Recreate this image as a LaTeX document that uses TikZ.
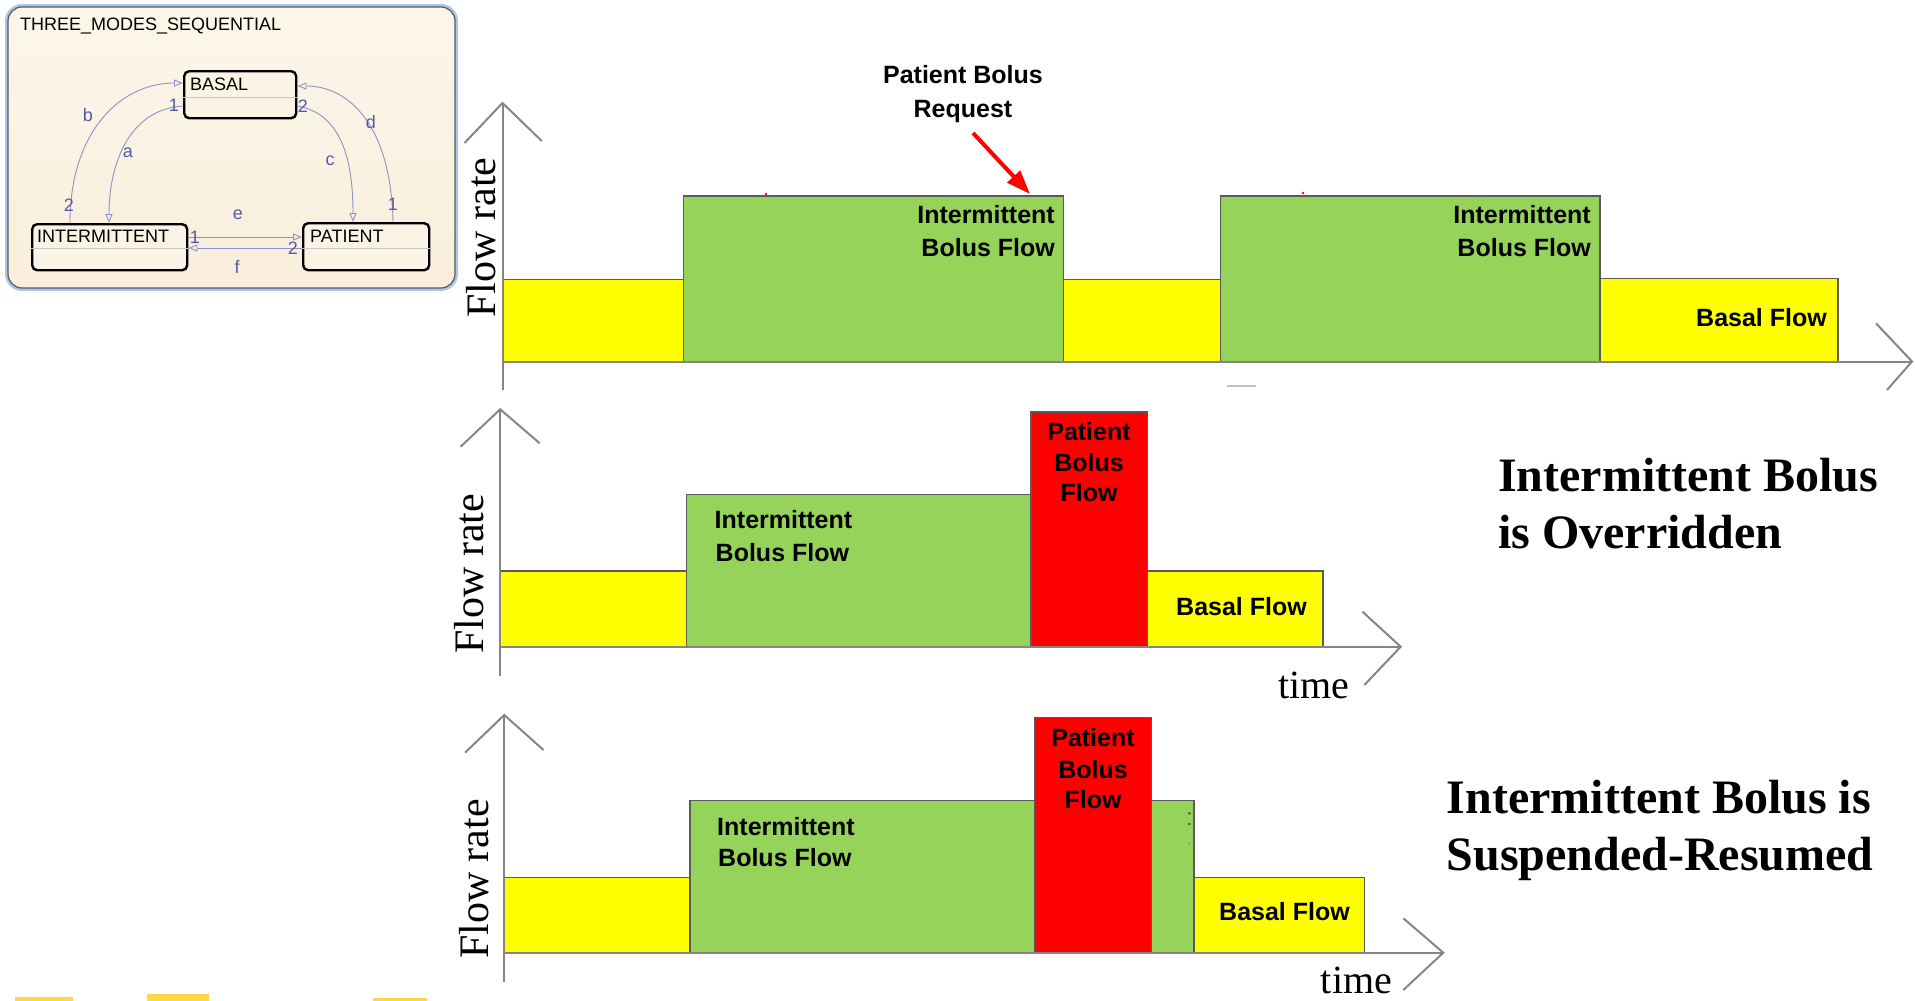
\documentclass[tikz,border=0pt]{standalone}
\usepackage{fontspec}
\setmainfont{Liberation Serif}
\newfontfamily\arialf{Liberation Sans}
\usetikzlibrary{arrows.meta}

\definecolor{yel}{HTML}{FFFF00}
\definecolor{grn}{HTML}{96D35B}
\definecolor{rd}{HTML}{FF0000}
\definecolor{edgecol}{HTML}{5A5A5A}
\definecolor{axiscol}{HTML}{858585}
\definecolor{chartbg}{HTML}{F9EEDB}
\definecolor{chartbgtop}{HTML}{FCF6EA}
\definecolor{framecol}{HTML}{A9C6EC}
\definecolor{statefill}{HTML}{FBF3E3}
\definecolor{transcol}{HTML}{8E93C4}
\definecolor{translbl}{HTML}{5559A8}
\definecolor{gold}{HTML}{FFD84A}

\begin{document}
\begin{tikzpicture}[x=1pt,y=-1pt,
  state/.style={draw=black, line width=2.4pt, rounded corners=5pt, fill=statefill, inner sep=0pt},
  stname/.style={inner sep=0pt, anchor=base west, font=\arialf\fontsize{18}{20}\selectfont},
  tlabel/.style={inner sep=0pt, text=translbl, font=\arialf\fontsize{18}{20}\selectfont},
  trans/.style={draw=transcol, line width=0.9pt, -{Triangle[open, length=9pt, width=7pt]}},
  divider/.style={draw=black!22, line width=0.8pt},
  bar/.style={draw=edgecol, line width=1.6pt},
  axisline/.style={draw=axiscol, line width=2pt},
  barlbl/.style={inner sep=0pt, font=\arialf\bfseries\fontsize{25}{30}\selectfont},
  ylbl/.style={inner sep=0pt, rotate=90, font=\fontsize{42}{46}\selectfont},
  tlbl/.style={inner sep=0pt, anchor=base west, font=\fontsize{40}{44}\selectfont},
  caption/.style={inner sep=0pt, anchor=base west, font=\bfseries\fontsize{48}{52}\selectfont},
  redarrow/.style={draw=rd, line width=4pt, -{Triangle[length=24pt, width=17pt]}}
]
\useasboundingbox (0,0) rectangle (1915,1001);

% ---------------- state chart ----------------
\draw[framecol, line width=4pt, rounded corners=15pt] (7,6) rectangle (456,289);
\shade[top color=chartbgtop, bottom color=chartbg, draw=black!65, line width=1.2pt, rounded corners=14pt]
  (8,7) rectangle (455,288);
\node[stname, font=\arialf\fontsize{18}{20}\selectfont] (title) at (20,30) {THREE\_MODES\_SEQUENTIAL};

\node[state, minimum width=112pt, minimum height=47pt, anchor=north west] (basal) at (183,70) {};
\node[state, minimum width=155pt, minimum height=46pt, anchor=north west] (inter) at (31,223) {};
\node[state, minimum width=126pt, minimum height=47pt, anchor=north west] (patient) at (302,222) {};

\draw[divider] ([yshift=-27pt]basal.north west) -- ([yshift=-27pt]basal.north east);
\draw[divider] ([yshift=-25pt]inter.north west) -- ([yshift=-25pt]inter.north east);
\draw[divider] ([yshift=-26pt]patient.north west) -- ([yshift=-26pt]patient.north east);

\node[stname] (basaltxt) at (190,90) {BASAL};
\node[stname] (intertxt) at (37,242) {INTERMITTENT};
\node[stname] (patienttxt) at (310,242) {PATIENT};

% transitions
\draw[trans] ([xshift=39pt]inter.north west) .. controls +(0,-92) and +(-62,0) .. ([yshift=-13pt]basal.north west);
\draw[trans] ([yshift=-36pt]basal.north west) .. controls +(-52,3) and +(0,-62) .. ([xshift=78pt]inter.north west);
\draw[trans] ([yshift=-36pt]basal.north east) .. controls +(46,8) and +(0,-58) .. ([xshift=51pt]patient.north west);
\draw[trans] ([xshift=91pt]patient.north west) .. controls +(-2,-96) and +(52,0) .. ([yshift=-16pt]basal.north east);
\draw[trans] ([yshift=-14pt]inter.north east) -- ([yshift=-15pt]patient.north west);
\draw[trans] ([yshift=-26pt]patient.north west) -- ([yshift=-25pt]inter.north east);

\node[tlabel] (lb) at (88,115) {b};
\node[tlabel] (la) at (128,153) {a};
\node[tlabel] (lc) at (330,161) {c};
\node[tlabel] (ld) at (371,122) {d};
\node[tlabel] (le) at (238,215) {e};
\node[tlabel] (lf) at (237,267) {f};
\node[tlabel] (pa) at (174,105) {1};
\node[tlabel] (pc) at (303,106) {2};
\node[tlabel] (pb) at (69,205) {2};
\node[tlabel] (pd) at (393,204) {1};
\node[tlabel] (pe) at (195,237) {1};
\node[tlabel] (pf) at (293,248) {2};

% ---------------- chart 1 ----------------
\fill[yel] (502.5,279.3) rectangle (683.3,361.7);
\draw[bar] (502.5,361.7) -- (502.5,279.3) -- (683.3,279.3);
\draw[bar, fill=grn] (683.3,195.7) rectangle (1063.6,361.7);
\draw[bar, fill=yel] (1063.6,279.3) rectangle (1220.6,361.7);
\draw[bar, fill=grn] (1220.6,195.7) rectangle (1600,361.7);
\draw[bar, fill=yel] (1600,278.3) rectangle (1838,361.7);
\fill[rd] (766,194) circle (1.3);
\fill[rd] (1303,193) circle (1.3);
\draw[black!25, line width=1.2pt] (1227,386) -- (1256,386);

\draw[axisline] (502.5,390) -- (502.5,103);
\draw[axisline] (464.5,143) -- (502.5,103) -- (541.8,141);
\draw[axisline] (502.5,361.7) -- (1912,361.7);
\draw[axisline] (1876,323.3) -- (1912,361.5) -- (1887,390);

\node[ylbl] (fr1) at (481,237.5) {Flow rate};
\node[barlbl, anchor=base] (req1) at (963,83) {Patient Bolus};
\node[barlbl, anchor=base] (req2) at (963,117) {Request};
\coordinate (reqtail) at (973,133);
\coordinate (reqtip) at (1030,194);
\draw[redarrow] (reqtail) -- (reqtip);

\node[barlbl, anchor=base east] (ib1a) at (1055,223) {Intermittent};
\node[barlbl, anchor=base east] (ib1b) at (1055,256.5) {Bolus Flow};
\node[barlbl, anchor=base east] (ib2a) at (1591,223) {Intermittent};
\node[barlbl, anchor=base east] (ib2b) at (1591,256.5) {Bolus Flow};
\node[barlbl, anchor=base east] (bf1) at (1827,326.7) {Basal Flow};

% ---------------- chart 2 ----------------
\fill[yel] (500.2,570.7) rectangle (686.4,646.7);
\draw[bar] (500.2,646.7) -- (500.2,570.7) -- (686.4,570.7);
\draw[bar, fill=grn] (686.4,494.3) rectangle (1030.8,646.7);
\draw[bar, fill=rd] (1030.8,411.7) rectangle (1147.5,646.7);
\draw[bar, fill=yel] (1147.5,570.7) rectangle (1323,646.7);

\draw[axisline] (500.2,676) -- (500.2,409.3);
\draw[axisline] (460.6,446.7) -- (500.2,409.3) -- (539.7,443.3);
\draw[axisline] (500.2,646.7) -- (1400.7,646.7);
\draw[axisline] (1362.5,611.7) -- (1400.7,646.7) -- (1364.4,685);

\node[ylbl] (fr2) at (469,573.6) {Flow rate};
\node[tlbl] (tm2) at (1278,698.3) {time};
\node[barlbl, anchor=base west] (ib3a) at (714.5,528.3) {Intermittent};
\node[barlbl, anchor=base west] (ib3b) at (715.5,561.7) {Bolus Flow};
\node[barlbl, anchor=base] (pb1a) at (1089,440.7) {Patient};
\node[barlbl, anchor=base] (pb1b) at (1089,471.7) {Bolus};
\node[barlbl, anchor=base] (pb1c) at (1089,501.7) {Flow};
\node[barlbl, anchor=base west] (bf2) at (1176,615) {Basal Flow};

% ---------------- chart 3 ----------------
\fill[yel] (504.3,877.3) rectangle (690.2,953);
\draw[bar] (504.3,953) -- (504.3,877.3) -- (690.2,877.3);
\draw[bar, fill=grn] (690.2,800.3) rectangle (1194,953);
\draw[bar, fill=rd] (1034.6,717.3) rectangle (1151.5,953);
\draw[bar, fill=yel] (1194,877.3) rectangle (1364.5,953);
\fill[black!70] (1189.3,813.3) circle (1.4);
\fill[black!70] (1189.3,824) circle (1.4);
\fill[black!45] (1189.3,843.3) circle (1.2);

\draw[axisline] (504.3,981.7) -- (504.3,715);
\draw[axisline] (465,752.7) -- (504.3,715) -- (543.5,750);
\draw[axisline] (504.3,952.7) -- (1443.3,952.7);
\draw[axisline] (1403.3,918.3) -- (1443.3,952.7) -- (1403.3,990);

\node[ylbl] (fr3) at (473.7,879) {Flow rate};
\node[tlbl] (tm3) at (1320.7,993.3) {time};
\node[barlbl, anchor=base west] (ib4a) at (717,835) {Intermittent};
\node[barlbl, anchor=base west] (ib4b) at (718,866.7) {Bolus Flow};
\node[barlbl, anchor=base] (pb2a) at (1093,746.7) {Patient};
\node[barlbl, anchor=base] (pb2b) at (1093,778.3) {Bolus};
\node[barlbl, anchor=base] (pb2c) at (1093,808.3) {Flow};
\node[barlbl, anchor=base west] (bf3) at (1219,920) {Basal Flow};

% ---------------- captions ----------------
\node[caption] (cap1a) at (1498,491.7) {Intermittent Bolus};
\node[caption] (cap1b) at (1498,548.3) {is Overridden};
\node[caption] (cap2a) at (1446.7,813.3) {Intermittent Bolus is};
\node[caption] (cap2b) at (1446.7,870) {Suspended-Resumed};

% ---------------- strip at the lower edge ----------------
\fill[gold] (15,997.3) rectangle (73.3,1001);
\fill[gold] (147.3,994) rectangle (209.3,1001);
\fill[gold] (373.3,998) rectangle (426.7,1001);
\end{tikzpicture}
\end{document}
